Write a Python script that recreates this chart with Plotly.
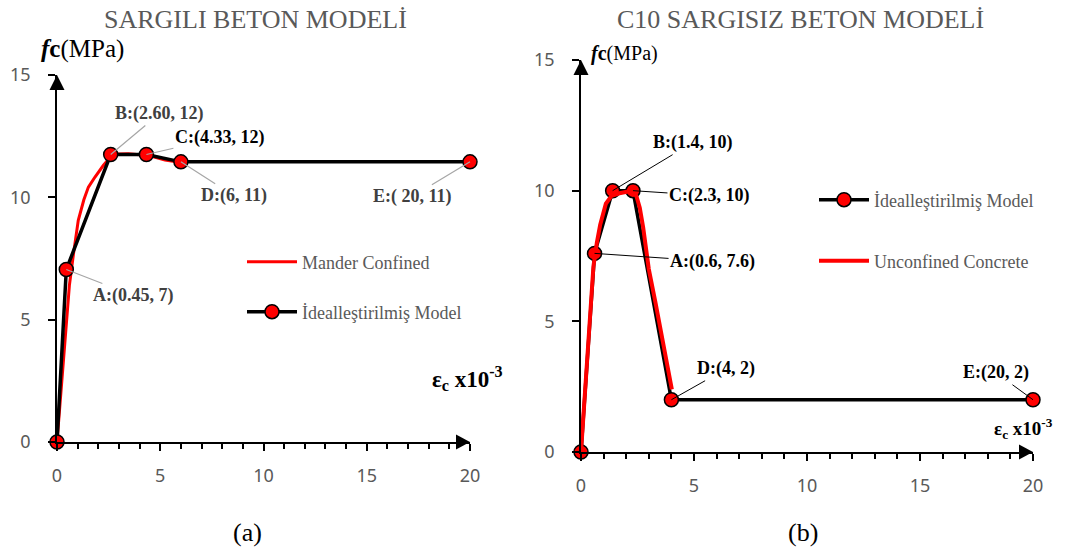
import plotly.graph_objects as go

# ---------------- data ----------------
# (a) confined concrete
ideal_a_x = [0, 0.45, 2.60, 4.33, 6, 20]
ideal_a_y = [0, 7.05, 11.75, 11.75, 11.45, 11.45]
mander_x = [0, 0.15, 0.30, 0.45, 0.60, 0.80, 1.03, 1.30, 1.52, 1.84, 2.24, 2.65, 3.00, 3.45, 3.90, 4.42, 4.85, 5.23, 5.70, 6.10]
mander_y = [0, 1.6, 3.2, 5.0, 6.4, 7.7, 9.06, 9.9, 10.42, 10.83, 11.30, 11.71, 11.77, 11.78, 11.75, 11.71, 11.62, 11.52, 11.46, 11.42]
labels_a = ["A:(0.45, 7)", "B:(2.60, 12)", "C:(4.33, 12)", "D:(6, 11)", "E:( 20, 11)"]

# (b) unconfined concrete C10
ideal_b_x = [0, 0.6, 1.4, 2.3, 4, 20]
ideal_b_y = [0, 7.6, 10, 10, 2, 2]
unconf_x = [0, 0.15, 0.28, 0.40, 0.55, 0.70, 0.85, 1.10, 1.35, 1.70, 2.00, 2.25, 2.45, 2.60, 2.75, 3.00, 3.30, 3.60, 3.85, 4.02]
unconf_y = [0, 2.0, 4.0, 5.6, 7.1, 8.0, 8.7, 9.5, 9.8, 9.9, 9.97, 10.0, 9.8, 9.35, 8.6, 7.0, 5.7, 4.3, 3.2, 2.4]
labels_b = ["A:(0.6, 7.6)", "B:(1.4, 10)", "C:(2.3, 10)", "D:(4, 2)", "E:(20, 2)"]

x_ticks = [0, 5, 10, 15, 20]
y_ticks = [0, 5, 10, 15]
x_range = [0, 20]
y_range = [0, 15]

W, H = 1076, 555
SERIF = "Liberation Serif, Times New Roman, serif"
SANS = "Noto Sans, Open Sans, sans-serif"
GRAY = "#595959"

fig = go.Figure()

marker_style = dict(size=14, color="#FF0000", line=dict(color="black", width=1.5))

# left panel
fig.add_trace(go.Scatter(x=mander_x, y=mander_y, mode="lines", name="Mander Confined",
                         line=dict(color="#FF0000", width=3), xaxis="x", yaxis="y",
                         legend="legend", cliponaxis=False))
fig.add_trace(go.Scatter(x=ideal_a_x, y=ideal_a_y, mode="lines+markers", name="İdealleştirilmiş Model",
                         line=dict(color="black", width=3.5), marker=marker_style,
                         xaxis="x", yaxis="y", legend="legend2", cliponaxis=False))
# right panel
fig.add_trace(go.Scatter(x=ideal_b_x, y=ideal_b_y, mode="lines+markers", name="İdealleştirilmiş Model",
                         line=dict(color="black", width=3.5), marker=marker_style,
                         xaxis="x2", yaxis="y2", legend="legend3", cliponaxis=False))
fig.add_trace(go.Scatter(x=unconf_x, y=unconf_y, mode="lines", name="Unconfined Concrete",
                         line=dict(color="#FF0000", width=4), xaxis="x2", yaxis="y2",
                         legend="legend4", cliponaxis=False))

# domains (pixel based)
def px_x(p):
    return p / W
def px_y(p):
    return 1 - p / H

dom_xa = [px_x(57), px_x(470)]
dom_ya = [px_y(442), px_y(75)]
dom_xb = [px_x(581), px_x(1033)]
dom_yb = [px_y(452), px_y(60)]

tickfont = dict(family=SANS, size=18, color=GRAY)

def xaxis_main(domain, anchor):
    return dict(domain=domain, anchor=anchor, range=x_range, tickvals=x_ticks,
                showline=True, linecolor="black", linewidth=1.5, showgrid=False, zeroline=False,
                ticks="outside", ticklen=7, tickwidth=1.5, tickcolor="black",
                tickfont=tickfont, ticklabelstandoff=10,
                minor=dict(dtick=1, ticks="outside", ticklen=5, tickwidth=1.5, tickcolor="black"))

def yaxis_main(domain, anchor):
    return dict(domain=domain, anchor=anchor, range=y_range, tickvals=y_ticks,
                showline=True, linecolor="black", linewidth=1.5, showgrid=False, zeroline=False,
                ticks="outside", ticklen=7, tickwidth=1.5, tickcolor="black",
                tickfont=tickfont, ticklabelstandoff=14)

def x_overlay(over, anchor, domain):
    return dict(overlaying=over, anchor=anchor, domain=domain, range=x_range, tickvals=x_ticks,
                ticks="inside", ticklen=7, tickwidth=1.5, tickcolor="black",
                showticklabels=False, showline=False, showgrid=False, zeroline=False)

def y_overlay(over, anchor, domain):
    return dict(overlaying=over, anchor=anchor, domain=domain, range=y_range, tickvals=y_ticks,
                ticks="inside", ticklen=7, tickwidth=1.5, tickcolor="black",
                showticklabels=False, showline=False, showgrid=False, zeroline=False)

legend_common = dict(xanchor="left", yanchor="middle", bgcolor="rgba(0,0,0,0)",
                     font=dict(family=SERIF, size=18, color=GRAY), itemwidth=50, borderwidth=0)

# axis arrowheads: pixel-sized filled triangles anchored at the axis ends (paper refs, not clipped)
shapes = []
for dx, dy in ((dom_xa, dom_ya), (dom_xb, dom_yb)):
    shapes.append(dict(type="path", xref="paper", yref="paper", xsizemode="pixel", ysizemode="pixel",
                       xanchor=dx[0], yanchor=dy[1], path="M0,0 L-7.5,-15 L7.5,-15 Z",
                       fillcolor="black", line=dict(width=0)))
    shapes.append(dict(type="path", xref="paper", yref="paper", xsizemode="pixel", ysizemode="pixel",
                       xanchor=dx[1], yanchor=dy[0], path="M0,0 L-14,7.5 L-14,-7.5 Z",
                       fillcolor="black", line=dict(width=0)))

fig.update_layout(
    width=W, height=H, margin=dict(l=0, r=0, t=0, b=0, autoexpand=False),
    paper_bgcolor="white", plot_bgcolor="white",
    xaxis=xaxis_main(dom_xa, "y"), yaxis=yaxis_main(dom_ya, "x"),
    xaxis2=xaxis_main(dom_xb, "y2"), yaxis2=yaxis_main(dom_yb, "x2"),
    xaxis3=x_overlay("x", "y", dom_xa), yaxis3=y_overlay("y", "x", dom_ya),
    xaxis4=x_overlay("x2", "y2", dom_xb), yaxis4=y_overlay("y2", "x2", dom_yb),
    legend=dict(legend_common, x=px_x(242), y=px_y(262)),
    legend2=dict(legend_common, x=px_x(242), y=px_y(312)),
    legend3=dict(legend_common, x=px_x(814), y=px_y(200)),
    legend4=dict(legend_common, x=px_x(814), y=px_y(261)),
    showlegend=True,
    shapes=shapes,
)

def ptext(text, x, y, size, color="black", xanchor="center"):
    return dict(text=text, x=px_x(x), y=px_y(y), xref="paper", yref="paper",
                xanchor=xanchor, yanchor="middle", showarrow=False,
                font=dict(family=SERIF, size=size, color=color))

ann = []
# titles and captions
ann.append(ptext("SARGILI BETON MODELİ", 255, 20, 26, GRAY))
ann.append(ptext("C10 SARGISIZ BETON MODELİ", 800, 20, 26, GRAY))
ann.append(ptext("(a)", 247, 532, 26))
ann.append(ptext("(b)", 803, 532, 26))
# axis titles
ann.append(ptext("<b><i>f</i>c</b>(MPa)", 39, 49, 25, xanchor="left"))
ann.append(ptext("<b><i>f</i>c</b>(MPa)", 589, 53, 20, xanchor="left"))
ann.append(ptext("<b>ε<sub>c</sub> x10<sup>-3</sup></b>", 430, 378, 23, xanchor="left"))
ann.append(ptext("<b>ε<sub>c</sub> x10<sup>-3</sup></b>", 992, 428, 19, xanchor="left"))

# point labels (a)
offs_a = [(67, 26), (49, -41), (73, -17), (53, 34), (-58, 35)]
cols_a = ["#404040", "#404040", "black", "#404040", "#404040"]
for i, lab in enumerate(labels_a):
    ann.append(dict(x=ideal_a_x[i + 1], y=ideal_a_y[i + 1], xref="x", yref="y", text="<b>%s</b>" % lab,
                    ax=offs_a[i][0], ay=offs_a[i][1], showarrow=True, arrowhead=0, arrowwidth=1.2,
                    xanchor="center", yanchor="middle",
                    arrowcolor="#A6A6A6", font=dict(family=SERIF, size=18, color=cols_a[i])))
# point labels (b)
offs_b = [(118, 8), (80, -48), (76, 5), (55, -31), (-37, -27)]
for i, lab in enumerate(labels_b):
    ann.append(dict(x=ideal_b_x[i + 1], y=ideal_b_y[i + 1], xref="x2", yref="y2", text="<b>%s</b>" % lab,
                    ax=offs_b[i][0], ay=offs_b[i][1], showarrow=True, arrowhead=0, arrowwidth=1,
                    xanchor="center", yanchor="middle",
                    arrowcolor="black", font=dict(family=SERIF, size=18, color="black")))

fig.update_layout(annotations=ann)
fig.write_html("out.html")
